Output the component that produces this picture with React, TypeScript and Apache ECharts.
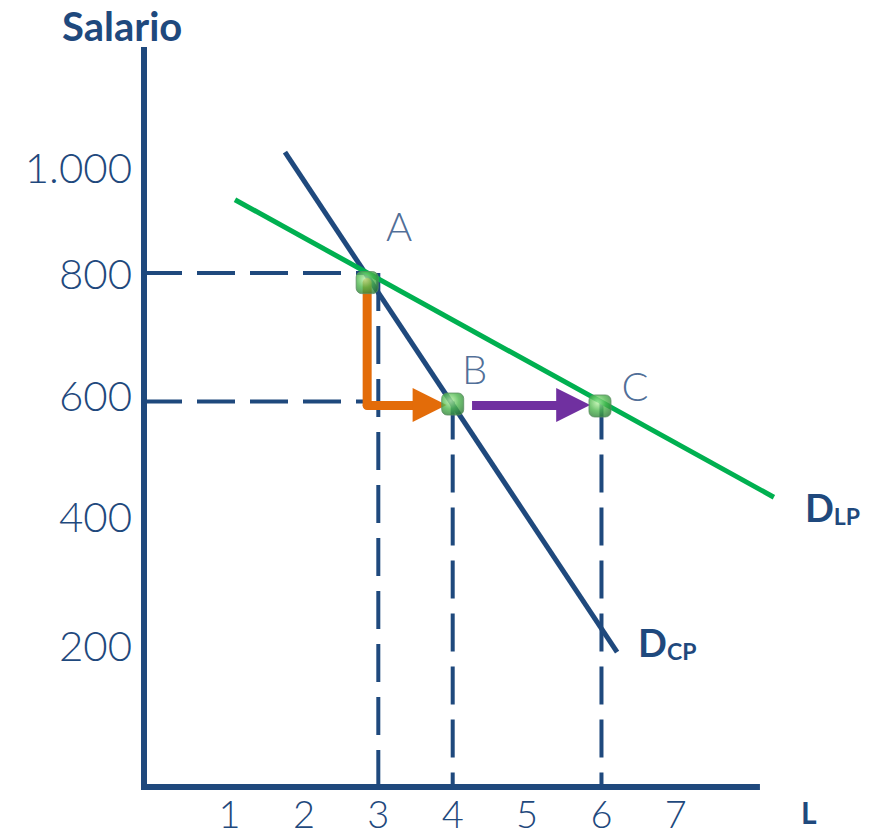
import React, { useEffect, useRef } from "react";
import * as echarts from "echarts";

// ---- data ----
const xMin = -0.15;
const xMax = 8.4;
const xAxisEnd = 8.09;
const yMin = 0;
const yMax = 1147;
const xTicks = [1, 2, 3, 4, 5, 6, 7];
const yTickValues = [200, 400, 600, 800, 1000];
const yTickLabels = ["200", "400", "600", "800", "1.000"];
// short-run demand (D_CP) and long-run demand (D_LP)
const dcpLine = [[1.745, 988], [6.21, 210]];
const dlpLine = [[1.073, 914], [8.318, 451]];
// equilibrium points
const pointNames = ["A", "B", "C"];
const pointValues = [[2.85, 785], [4.0, 596], [5.98, 593]];
// dashed guides: horizontal [wage, L at end], vertical [L, wage at top]
const hGuides = [[800, 2.85], [600, 2.85]];
const vGuides = [[3, 800], [4, 600], [6, 600]];
// arrows
const orangeDown = [[2.85, 785], [2.85, 594.6]];
const orangeRight = [[2.85, 594.6], [3.69, 594.6]];
const purpleRight = [[4.26, 594.6], [5.62, 594.6]];

const NAVY = "#1f497d";
const GREEN = "#00b050";
const ORANGE = "#e36c09";
const PURPLE = "#7030a0";
const FONT = "Lato";

export default function App() {
  const ref = useRef<HTMLDivElement>(null);
  useEffect(() => {
    document.body.style.margin = "0";
    const chart = echarts.init(ref.current!, null, { renderer: "svg" });

    const yRich: any = {};
    const yPads = [[0, 0, 26, 0], [0, 0, 28, 0], [0, 0, 12, 0], [0, 0, 0, 0], [46, 0, 0, 0]];
    yTickValues.forEach((v, i) => {
      yRich["t" + i] = {
        fontSize: 42,
        color: NAVY,
        fontFamily: FONT,
        fontWeight: 300,
        padding: yPads[i],
      };
    });

    const dashStyle = { color: NAVY, width: 4, type: [38, 15] as any };
    const guideSeries: any[] = [];
    hGuides.forEach(([w, L]) => {
      guideSeries.push({
        type: "line",
        data: [[xMin, w], [L, w]],
        showSymbol: false,
        lineStyle: dashStyle,
        z: 1,
        silent: true,
      });
    });
    vGuides.forEach(([L, w]) => {
      guideSeries.push({
        type: "line",
        data: [[L, w], [L, yMin]],
        showSymbol: false,
        lineStyle: dashStyle,
        z: 1,
        silent: true,
      });
    });

    const curveLabel = (sub: string, offset: number[]) => ({
      show: true,
      position: "right",
      offset,
      formatter: `{d|D}{s|${sub}}`,
      rich: {
        d: { fontSize: 38, fontWeight: "bold", color: NAVY, fontFamily: FONT, lineHeight: 40 },
        s: { fontSize: 23, fontWeight: "bold", color: NAVY, fontFamily: FONT, lineHeight: 20, padding: [18, 0, 0, 0] },
      },
    });

    const option: any = {
      animation: false,
      title: {
        text: "Salario",
        left: 57,
        top: 1,
        textStyle: { fontSize: 40, fontWeight: "bold", color: NAVY, fontFamily: FONT },
      },
      grid: { left: 144, right: 91, top: 50, bottom: 51, containLabel: false },
      xAxis: {
        type: "value",
        min: xMin,
        max: xMax,
        minInterval: 1,
        maxInterval: 1,
        name: "L",
        nameLocation: "end",
        nameGap: 21,
        nameTextStyle: {
          fontSize: 30,
          fontWeight: "bold",
          color: NAVY,
          fontFamily: FONT,
          verticalAlign: "top",
          padding: [10, 0, 0, 0],
        },
        axisLine: { show: false },
        axisTick: { show: false },
        splitLine: { show: false },
        axisLabel: {
          show: true,
          margin: 7,
          fontSize: 38,
          lineHeight: 38,
          color: NAVY,
          fontFamily: FONT,
          fontWeight: 300,
          formatter: (v: number) => {
            const t = xTicks.find((x) => Math.abs(x - v) < 1e-6);
            return t === undefined ? "" : String(t);
          },
        },
      },
      yAxis: {
        type: "value",
        min: yMin,
        max: yMax,
        interval: 200,
        axisLine: { show: true, onZero: false, lineStyle: { color: NAVY, width: 6, cap: "square" } },
        axisTick: { show: false },
        splitLine: { show: false },
        axisLabel: {
          show: true,
          margin: 12,
          fontSize: 42,
          color: NAVY,
          fontFamily: FONT,
          fontWeight: 300,
          formatter: (v: number) => {
            const i = yTickValues.findIndex((x) => Math.abs(x - v) < 1e-6);
            return i < 0 ? "" : `{t${i}|${yTickLabels[i]}}`;
          },
          rich: yRich,
        },
      },
      series: [
        ...guideSeries,
        {
          type: "line",
          name: "xAxisLine",
          data: [[xMin, yMin], [xAxisEnd, yMin]],
          showSymbol: false,
          lineStyle: { color: NAVY, width: 6, cap: "square" },
          z: 6,
          silent: true,
        },
        {
          type: "line",
          name: "DCP",
          data: [
            { value: dcpLine[0] },
            { value: dcpLine[1], label: curveLabel("CP", [16, -10]) },
          ],
          symbol: "circle",
          symbolSize: 0,
          showSymbol: true,
          lineStyle: { color: NAVY, width: 5 },
          itemStyle: { color: NAVY },
          z: 2,
          silent: true,
        },
        {
          type: "line",
          name: "DLP",
          data: [
            { value: dlpLine[0] },
            { value: dlpLine[1], label: curveLabel("LP", [26, 10]) },
          ],
          symbol: "circle",
          symbolSize: 0,
          showSymbol: true,
          lineStyle: { color: GREEN, width: 5 },
          itemStyle: { color: GREEN },
          z: 3,
          silent: true,
        },
        {
          type: "line",
          data: orangeDown,
          showSymbol: false,
          lineStyle: { color: ORANGE, width: 9, cap: "round" },
          z: 4,
          silent: true,
        },
        {
          type: "lines",
          coordinateSystem: "cartesian2d",
          data: [{ coords: orangeRight }],
          symbol: ["none", "triangle"],
          symbolSize: 34,
          lineStyle: { color: ORANGE, width: 9, opacity: 1, cap: "round", curveness: 0 },
          z: 4,
          silent: true,
        },
        {
          type: "lines",
          coordinateSystem: "cartesian2d",
          data: [{ coords: purpleRight }],
          symbol: ["none", "triangle"],
          symbolSize: 34,
          lineStyle: { color: PURPLE, width: 9, opacity: 1, cap: "butt", curveness: 0 },
          z: 4,
          silent: true,
        },
        {
          type: "scatter",
          symbol: "roundRect",
          symbolSize: 22,
          z: 7,
          silent: true,
          itemStyle: {
            color: new echarts.graphic.RadialGradient(0.4, 0.35, 0.75, [
              { offset: 0, color: "#b9f2a6" },
              { offset: 0.5, color: "#4fb84f" },
              { offset: 1, color: "#2b7a35" },
            ]),
            borderColor: "#5b8f62",
            borderWidth: 1,
          },
          data: pointValues.map((v, i) => ({
            value: v,
            name: pointNames[i],
            label: {
              show: true,
              formatter: pointNames[i],
              position: "inside",
              offset: [[32, -57], [22, -35], [35, -20]][i],
              fontSize: 40,
              color: NAVY,
              fontFamily: FONT,
              fontWeight: 300,
            },
          })),
        },
      ],
    };
    chart.setOption(option);
    return () => chart.dispose();
  }, []);
  return (
    <div
      ref={ref}
      style={{ position: "fixed", left: 0, top: 0, width: 871, height: 838, background: "#fff" }}
    />
  );
}
